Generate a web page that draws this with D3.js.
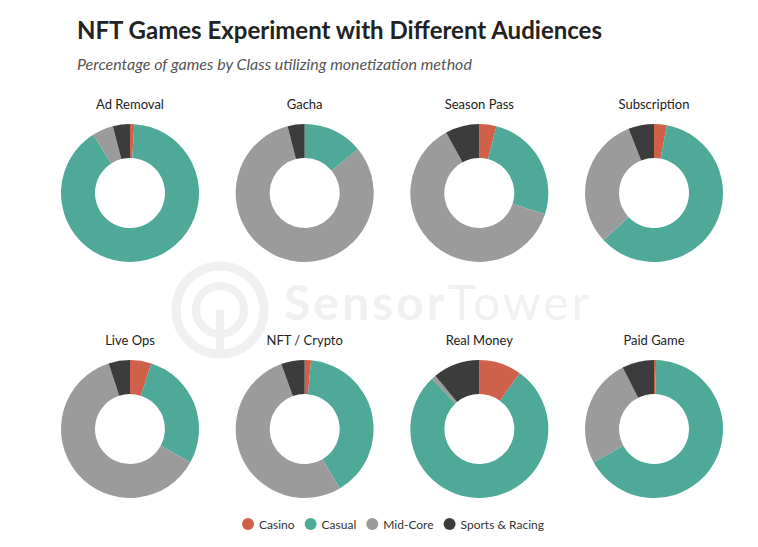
<!DOCTYPE html>
<html>
<head>
<meta charset="utf-8">
<script src="https://cdn.jsdelivr.net/npm/d3@7"></script>
<style>
  body { margin: 0; background: #fff; }
  svg { font-family: Lato, "Open Sans", sans-serif; }
  .title { font-size: 24px; font-weight: 700; fill: #222; }
  .subtitle { font-size: 16px; font-style: italic; fill: #555; }
  .panel-label { font-size: 13px; fill: #222; }
  .legend-label { font-size: 12px; fill: #333; }
</style>
</head>
<body>
<svg width="758" height="547"></svg>
<script>
// categories and values (percent of games, clockwise from 12 o'clock)
const classes = ['Casino', 'Casual', 'Mid-Core', 'Sports & Racing'];
const colors = ['#cf614b', '#4ea999', '#9b9b9b', '#3c3c3c'];
const methods = ['Ad Removal', 'Gacha', 'Season Pass', 'Subscription',
                 'Live Ops', 'NFT / Crypto', 'Real Money', 'Paid Game'];
const casino = [1, 0, 4, 3, 5, 1.5, 10, 0.5];
const casual = [90, 14, 26, 60, 28, 40, 78, 66.5];
const midCore = [5, 82, 62, 31, 62, 53, 1, 25.5];
const sports = [4, 4, 8, 6, 5, 5.5, 11, 7.5];

const svg = d3.select('svg');

// layout
const cols = 4;
const colX = d3.scalePoint().domain(d3.range(cols)).range([130, 654]);
const rowY = [193, 429];
const outerR = 69, innerR = 35;

const color = d3.scaleOrdinal().domain(classes).range(colors);

// faint watermark
const wm = svg.append('g').attr('opacity', 0.055).attr('fill', '#000');
wm.append('circle').attr('cx', 220).attr('cy', 310).attr('r', 44)
  .attr('fill', 'none').attr('stroke', '#000').attr('stroke-width', 9);
wm.append('circle').attr('cx', 220).attr('cy', 310).attr('r', 24)
  .attr('fill', 'none').attr('stroke', '#000').attr('stroke-width', 8);
wm.append('rect').attr('x', 216).attr('y', 310).attr('width', 8).attr('height', 44);
wm.append('text').attr('x', 284).attr('y', 320)
  .attr('textLength', 305).attr('lengthAdjust', 'spacing')
  .style('font-size', '48px')
  .html('<tspan font-weight="700">Sensor</tspan><tspan>Tower</tspan>');

// title
svg.append('text').attr('class', 'title').attr('x', 77).attr('y', 39)
  .text('NFT Games Experiment with Different Audiences');
svg.append('text').attr('class', 'subtitle').attr('x', 77).attr('y', 70)
  .text('Percentage of games by Class utilizing monetization method');

const pie = d3.pie().sort(null).value(d => d.value);
const arc = d3.arc().innerRadius(innerR).outerRadius(outerR);

methods.forEach(function (m, i) {
  const data = classes.map((c, k) => ({
    cls: c,
    value: [casino, casual, midCore, sports][k][i]
  }));
  const cx = colX(i % cols);
  const cy = rowY[Math.floor(i / cols)];
  const g = svg.append('g').attr('transform', `translate(${cx},${cy})`);
  g.selectAll('path')
    .data(pie(data).filter(d => d.data.value > 0))
    .enter()
    .append('path')
    .attr('d', arc)
    .attr('fill', d => color(d.data.cls));
  g.append('text')
    .attr('class', 'panel-label')
    .attr('text-anchor', 'middle')
    .attr('y', -outerR - 15)
    .text(m);
});

// legend, laid out from measured label widths and centred
const legend = svg.append('g');
const gap = 10;
let lx = 0;
classes.forEach(function (c) {
  const item = legend.append('g').attr('transform', `translate(${lx},0)`);
  item.append('circle').attr('cx', 6).attr('r', 6).attr('fill', color(c));
  const t = item.append('text').attr('class', 'legend-label')
    .attr('x', 17).attr('y', 4.5).text(c);
  lx += 17 + t.node().getComputedTextLength() + gap;
});
const legendW = lx - gap;
legend.attr('transform', `translate(${393 - legendW / 2},524)`);
</script>
</body>
</html>
